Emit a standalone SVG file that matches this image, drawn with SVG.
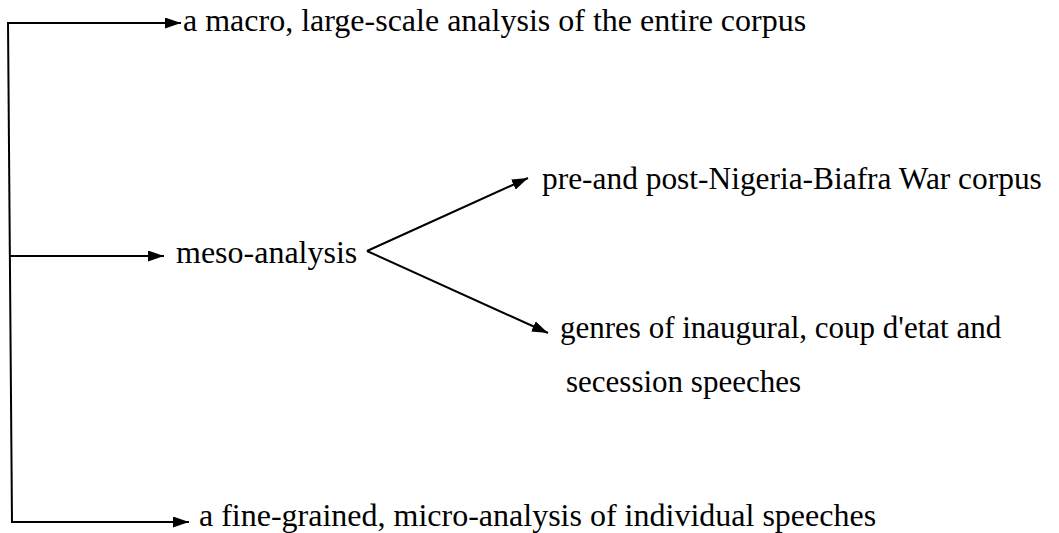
<svg xmlns="http://www.w3.org/2000/svg" width="1059" height="533" viewBox="0 0 1059 533">
<style>
text{font-family:"Liberation Serif","Times New Roman",serif;font-size:32px;fill:#000}
.c{stroke:#000;stroke-width:2;fill:none}
</style>
<defs>
<marker id="ah" markerWidth="16" markerHeight="11" refX="16" refY="5.5" orient="auto" markerUnits="userSpaceOnUse">
<path d="M0,0 L16,5.5 L0,11 Z" fill="#000"/>
</marker>
</defs>
<rect width="1059" height="533" fill="#fff"/>
<g id="connectors">
<path class="c" d="M8,22 L12,523"/>
<path class="c" d="M8,23 L181,23" marker-end="url(#ah)"/>
<path class="c" d="M10,256 L164,256" marker-end="url(#ah)"/>
<path class="c" d="M12,522 L189,522" marker-end="url(#ah)"/>
<path class="c" d="M367,251 L528,178" marker-end="url(#ah)"/>
<path class="c" d="M367,251 L548,333" marker-end="url(#ah)"/>
</g>
<g id="macro"><text x="183" y="31">a macro, large-scale analysis of the entire corpus</text></g>
<g id="meso"><text x="176" y="263">meso-analysis</text></g>
<g id="prepost"><text x="542" y="189" style="font-size:31.4px">pre-and post-Nigeria-Biafra War corpus</text></g>
<g id="genres"><text x="560" y="338" style="font-size:31px">genres of inaugural, coup d'etat and</text><text x="566" y="392" style="font-size:31px">secession speeches</text></g>
<g id="micro"><text x="199" y="526">a fine-grained, micro-analysis of individual speeches</text></g>
</svg>
